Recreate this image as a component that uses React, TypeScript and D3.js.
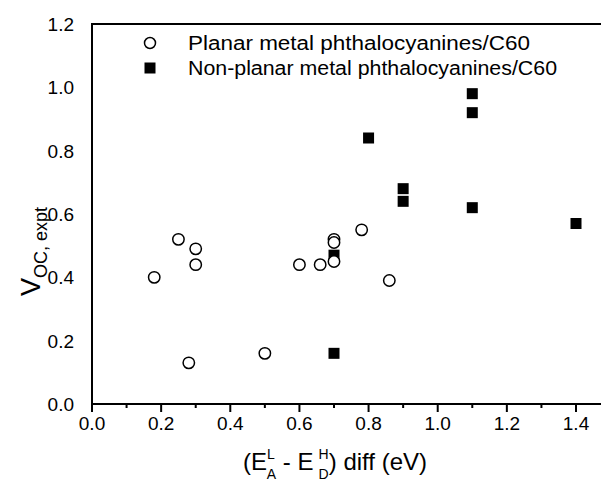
import React from "react";
import * as d3 from "d3";

// planar metal phthalocyanines / C60 (open circles)
const planarX = [0.18, 0.25, 0.3, 0.3, 0.28, 0.5, 0.6, 0.66, 0.7, 0.7, 0.7, 0.78, 0.86];
const planarY = [0.4, 0.52, 0.49, 0.44, 0.13, 0.16, 0.44, 0.44, 0.52, 0.51, 0.45, 0.55, 0.39];

// non-planar metal phthalocyanines / C60 (filled squares)
const nonPlanarX = [0.7, 0.7, 0.8, 0.9, 0.9, 1.1, 1.1, 1.1, 1.4];
const nonPlanarY = [0.16, 0.47, 0.84, 0.68, 0.64, 0.98, 0.92, 0.62, 0.57];

const xTicks = [0, 0.2, 0.4, 0.6, 0.8, 1.0, 1.2, 1.4];
const xMinor = [0.1, 0.3, 0.5, 0.7, 0.9, 1.1, 1.3, 1.5];
const yTicks = [0, 0.2, 0.4, 0.6, 0.8, 1.0, 1.2];

const legendLabels = ["Planar metal phthalocyanines/C60", "Non-planar metal phthalocyanines/C60"];

const W = 601;
const H = 481;
const font = "Liberation Sans, Arial, sans-serif";

export default function App() {
  const x = d3.scaleLinear().domain([0, 1.4]).range([92, 576]);
  const y = d3.scaleLinear().domain([0, 1.2]).range([404, 24]);
  const xEnd = x(1.53);

  const planar = planarX.map((v, i) => ({ x: v, y: planarY[i] }));
  const nonPlanar = nonPlanarX.map((v, i) => ({ x: v, y: nonPlanarY[i] }));

  const sq = 11;

  return (
    <svg width={W} height={H} style={{ position: "absolute", left: 0, top: 0, background: "#fff" }} fontFamily={font}>
      {/* frame */}
      <line x1={x(0)} x2={x(0)} y1={y(1.2) - 1} y2={y(0) + 8} stroke="#000" strokeWidth={2} />
      <line x1={x(0)} x2={xEnd} y1={y(1.2)} y2={y(1.2)} stroke="#000" strokeWidth={2} />
      <line x1={x(0)} x2={xEnd} y1={y(0)} y2={y(0)} stroke="#000" strokeWidth={2} />

      {/* x ticks */}
      {xTicks.map((t) => (
        <g key={"xt" + t}>
          <line x1={x(t)} x2={x(t)} y1={y(0)} y2={y(0) + 8} stroke="#000" strokeWidth={2} />
          <text x={x(t)} y={y(0) + 26} fontSize={19} textAnchor="middle" fill="#000">
            {t.toFixed(1)}
          </text>
        </g>
      ))}
      {xMinor.map((t) => (
        <line key={"xm" + t} x1={x(t)} x2={x(t)} y1={y(0)} y2={y(0) + 4} stroke="#000" strokeWidth={2} />
      ))}

      {/* y tick labels */}
      {yTicks.map((t) => (
        <text key={"yt" + t} x={74} y={y(t) + 7} fontSize={19} textAnchor="end" fill="#000">
          {t.toFixed(1)}
        </text>
      ))}

      {/* x title */}
      <text x={243} y={470} fontSize={24} fill="#000">
        <tspan>(E</tspan>
        <tspan fontSize={14} dy={-11}>L</tspan>
        <tspan fontSize={14} dx={-8} dy={20}>A</tspan>
        <tspan dy={-9}> - E</tspan>
        <tspan fontSize={14} dx={5} dy={-11}>H</tspan>
        <tspan fontSize={14} dx={-10} dy={20}>D</tspan>
        <tspan dy={-9}>) diff (eV)</tspan>
      </text>

      {/* y title */}
      <text transform="translate(40, 296) rotate(-90)" fontSize={27} fill="#000">
        <tspan>V</tspan>
        <tspan fontSize={18} dy={7}>OC, expt</tspan>
      </text>

      {/* legend */}
      <circle cx={150} cy={43} r={5.5} fill="#fff" stroke="#000" strokeWidth={1.5} />
      <text x={188} y={50} fontSize={20} textLength={342} lengthAdjust="spacingAndGlyphs" fill="#000">{legendLabels[0]}</text>
      <rect x={150 - sq / 2} y={68 - sq / 2} width={sq} height={sq} fill="#000" />
      <text x={188} y={75} fontSize={20} textLength={369} lengthAdjust="spacingAndGlyphs" fill="#000">{legendLabels[1]}</text>

      {/* data */}
      {nonPlanar.map((d, i) => (
        <rect key={"s" + i} x={x(d.x) - sq / 2} y={y(d.y) - sq / 2} width={sq} height={sq} fill="#000" />
      ))}
      {planar.map((d, i) => (
        <circle key={"c" + i} cx={x(d.x)} cy={y(d.y)} r={5.7} fill="#fff" stroke="#000" strokeWidth={1.5} />
      ))}
    </svg>
  );
}
